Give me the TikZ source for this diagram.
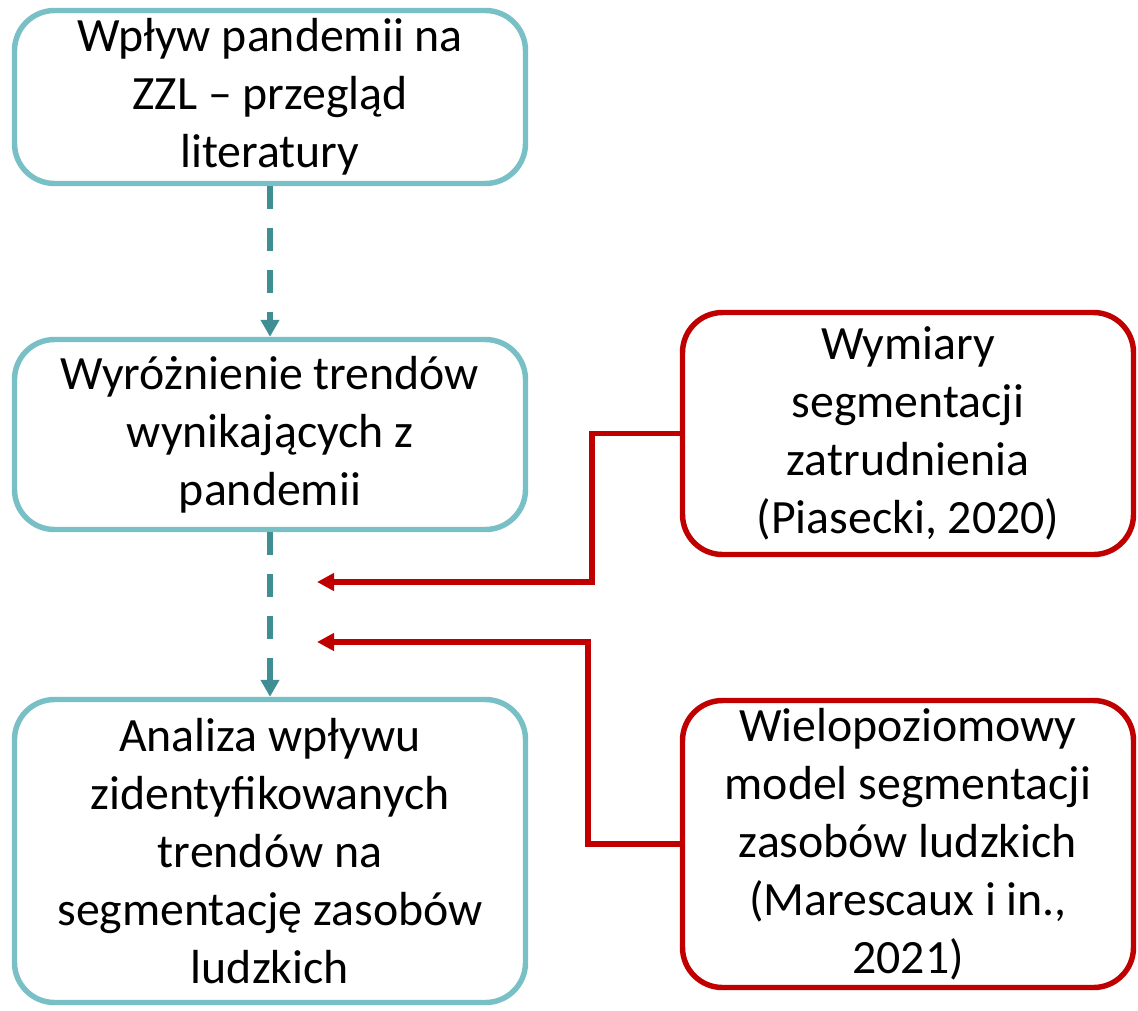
\documentclass[tikz,border=0pt]{standalone}
\usepackage{fontspec}
\setmainfont{Carlito}
\usepackage{tikz}
\usetikzlibrary{arrows.meta, positioning, calc}
\definecolor{tealline}{RGB}{120,192,198}
\definecolor{tealarrow}{RGB}{62,142,148}
\definecolor{darkred}{RGB}{192,0,0}
\tikzset{
  stage/.style={
    draw=tealline, line width=3.1pt, rounded corners=0.8cm,
    align=center, font=\fontsize{27.2}{33}\selectfont, fill=white,
    minimum width=10.22cm, inner sep=2pt
  },
  source/.style={
    stage, draw=darkred, minimum width=9.02cm
  },
  flow/.style={
    draw=tealarrow, line width=3.4pt, dash pattern=on 0.46cm off 0.38cm,
    -{Triangle[width=0.36cm, length=0.34cm]}
  },
  feed/.style={
    draw=darkred, line width=3.1pt,
    -{Triangle[width=0.34cm, length=0.34cm]}
  },
}
\begin{document}
\begin{tikzpicture}
  \useasboundingbox (0,0) rectangle (22.76,-20.2);
  % left column
  \node[stage, minimum height=3.46cm] (lit) at (5.40,-1.94)
    {Wpływ pandemii na\\ZZL – przegląd\\literatury};
  \node[stage, minimum height=3.80cm] (trends) at (5.40,-8.69)
    {Wyróżnienie trendów\\wynikających z\\pandemii};
  \node[stage, minimum height=6.06cm] (impact) at (5.40,-17.02)
    {Analiza wpływu\\zidentyfikowanych\\trendów na\\segmentację zasobów\\ludzkich};
  % right column
  \node[source, minimum height=4.84cm] (dims) at (18.16,-8.67)
    {Wymiary\\segmentacji\\zatrudnienia\\(Piasecki, 2020)};
  \node[source, minimum height=5.74cm] (model) at (18.16,-16.88)
    {Wielopoziomowy\\model segmentacji\\zasobów ludzkich\\(Marescaux i in.,\\2021)};

  \coordinate (in1) at (6.34,-11.64);
  \coordinate (in2) at (6.34,-12.84);
  \coordinate (knee1) at (11.84,0);
  \coordinate (knee2) at (11.76,0);

  \draw[flow] (lit) -- (trends);
  \draw[flow] (trends) -- (impact);
  \draw[feed] (dims.west) -- (dims.west -| knee1) |- (in1);
  \draw[feed] (model.west) -- (model.west -| knee2) |- (in2);
\end{tikzpicture}
\end{document}
